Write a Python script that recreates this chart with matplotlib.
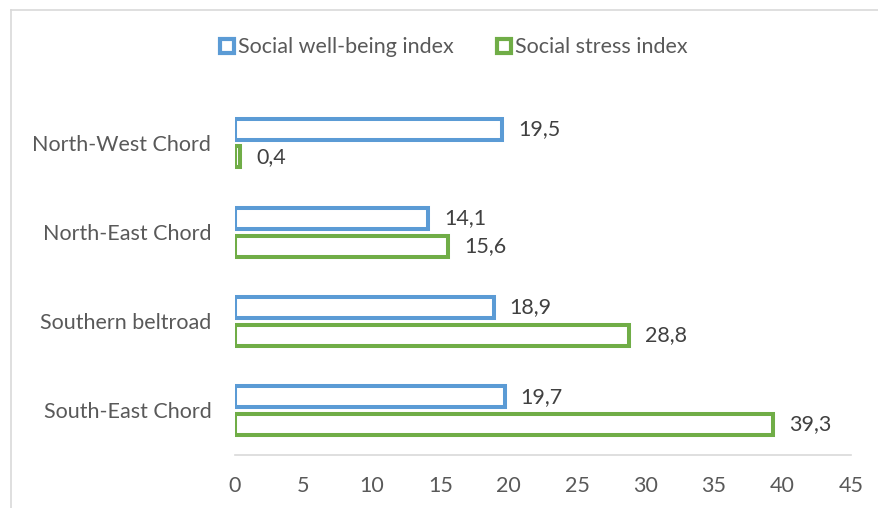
import numpy as np
import matplotlib.pyplot as plt
from matplotlib.lines import Line2D

plt.rcParams['font.family'] = ['Lato', 'DejaVu Sans']

# Data
roads = ['North-West Chord', 'North-East Chord', 'Southern beltroad', 'South-East Chord']
wellbeing = [19.5, 14.1, 18.9, 19.7]
stress = [0.4, 15.6, 28.8, 39.3]
series_names = ['Social well-being index', 'Social stress index']
xticks = [0, 5, 10, 15, 20, 25, 30, 35, 40, 45]

blue = '#5B9BD5'
green = '#70AD47'
grey = '#595959'
fs = 15.5

fig = plt.figure(figsize=(8.79, 5.08), dpi=100)
ax = fig.add_axes([0.2673, 0.1043, 0.7007, 0.7017])

y = np.arange(len(roads))
h = 0.235
off = 0.155
lw = 2.9

ax.barh(y - off, wellbeing, height=h, color='white', edgecolor=blue, linewidth=lw)
ax.barh(y + off, stress, height=h, color='white', edgecolor=green, linewidth=lw)

for yi, v in zip(y, wellbeing):
    ax.annotate(f'{v:.1f}'.replace('.', ','), (v, yi - off), xytext=(16, 0),
                textcoords='offset pixels', va='center', ha='left', fontsize=fs, color='#404040')
for yi, v in zip(y, stress):
    ax.annotate(f'{v:.1f}'.replace('.', ','), (v, yi + off), xytext=(16, 0),
                textcoords='offset pixels', va='center', ha='left', fontsize=fs, color='#404040')

ax.set_xlim(0, 45)
ax.set_ylim(len(roads) - 0.5, -0.5)
ax.set_xticks(xticks)
ax.set_yticks(y)
ax.set_yticklabels(roads)
ax.tick_params(axis='both', length=0, labelsize=fs, colors=grey)
ax.tick_params(axis='x', pad=15)
ax.tick_params(axis='y', pad=17)
for s in ['top', 'right', 'left']:
    ax.spines[s].set_visible(False)
ax.spines['bottom'].set_color('#D9D9D9')
ax.spines['bottom'].set_linewidth(1.2)

handles = [Line2D([], [], marker='s', linestyle='none', markersize=10,
                  markerfacecolor='white', markeredgecolor=c, markeredgewidth=3)
           for c in (blue, green)]
fig.legend(handles, series_names, loc='center', bbox_to_anchor=(0.516, 0.907), ncol=2,
           frameon=False, fontsize=fs, labelcolor=grey, handlelength=0.7,
           handletextpad=0.15, columnspacing=2.0)

# chart border (top and left only visible)
fig.add_artist(Line2D([0.0125, 1.0], [0.980, 0.980], color='#D9D9D9', linewidth=1.2))
fig.add_artist(Line2D([0.0125, 0.0125], [0.980, 0.0], color='#D9D9D9', linewidth=1.2))

fig.savefig('out.png', dpi=100)
